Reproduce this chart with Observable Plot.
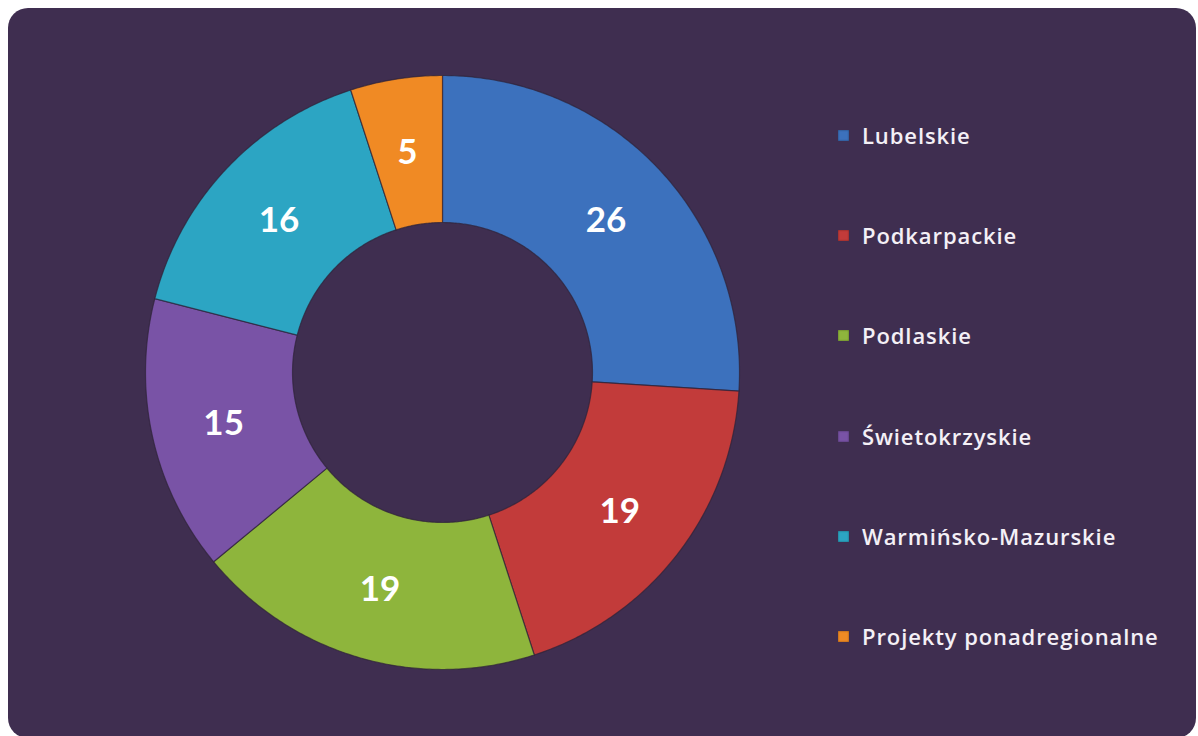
<!DOCTYPE html>
<html>
<head>
<meta charset="utf-8">
<script src="https://cdn.jsdelivr.net/npm/d3@7"></script>
<script src="https://cdn.jsdelivr.net/npm/@observablehq/plot@0.6"></script>
<style>
  html, body { margin: 0; padding: 0; background: #ffffff; width: 1198px; height: 736px; overflow: hidden; }
  #panel { position: absolute; left: 8px; top: 8px; width: 1188px; height: 730px; border-radius: 20px; background: #3f2e50; }
  #chart { position: absolute; left: 0; top: 0; }
  #legend { position: absolute; left: 838px; top: 120px; font-family: "Open Sans", Lato, sans-serif; font-weight: 600; font-size: 22px; letter-spacing: 0.9px; line-height: 30px; color: #f4f0f6; }
  .item { height: 100.2px; display: flex; align-items: flex-start; }
  .sw { width: 11px; height: 11px; margin-top: 10px; margin-right: 13px; box-shadow: inset 0 0 2px rgba(0,0,0,0.5); }
</style>
</head>
<body>
<div id="panel"></div>
<div id="chart"></div>
<div id="legend"></div>
<script>
const categories = ["Lubelskie", "Podkarpackie", "Podlaskie", "Świetokrzyskie", "Warmińsko-Mazurskie", "Projekty ponadregionalne"];
const values = [26, 19, 19, 15, 16, 5];
const colors = ["#3c71bd", "#c23b3a", "#8eb53c", "#7953a6", "#2ca5c3", "#f08a24"];

const innerRatio = 0.505;
const labelRatio = 0.755;

const pie = d3.pie().sort(null).value(d => d.value);
const arcs = pie(categories.map((c, i) => ({category: c, value: values[i]})));

// polygon outline of each ring segment (angle measured clockwise from top)
const pt = (a, r) => [r * Math.sin(a), r * Math.cos(a)];
const polys = [];
for (const a of arcs) {
  const n = Math.max(4, Math.ceil((a.endAngle - a.startAngle) / 0.01));
  const pts = [];
  for (let k = 0; k <= n; k++) pts.push(pt(a.startAngle + (a.endAngle - a.startAngle) * k / n, 1));
  for (let k = n; k >= 0; k--) pts.push(pt(a.startAngle + (a.endAngle - a.startAngle) * k / n, innerRatio));
  pts.push(pts[0]);
  pts.forEach(([x, y], j) => polys.push({category: a.data.category, x, y, j}));
}
const labels = arcs.map(a => {
  const m = (a.startAngle + a.endAngle) / 2;
  const [x, y] = pt(m, labelRatio);
  return {category: a.data.category, value: a.data.value, x, y};
});

const plot = Plot.plot({
  width: 1198,
  height: 736,
  margin: 0,
  style: {background: "transparent", overflow: "visible"},
  x: {domain: [-1, 1], range: [145, 739], axis: null},
  y: {domain: [-1, 1], range: [669, 75], axis: null},
  color: {domain: categories, range: colors},
  marks: [
    Plot.line(polys, {x: "x", y: "y", z: "category", fill: "category", stroke: "#2e2238", strokeWidth: 1.2, strokeOpacity: 0.7, curve: "linear"}),
    Plot.text(labels, {x: "x", y: "y", text: d => String(d.value), fill: "#ffffff", fontSize: 35, fontWeight: 700, fontFamily: "Lato, 'Open Sans', sans-serif", dy: 2})
  ]
});
document.getElementById("chart").appendChild(plot);

const legend = document.getElementById("legend");
categories.forEach((c, i) => {
  const item = document.createElement("div");
  item.className = "item";
  const sw = document.createElement("div");
  sw.className = "sw";
  sw.style.background = colors[i];
  const t = document.createElement("span");
  t.textContent = c;
  item.appendChild(sw);
  item.appendChild(t);
  legend.appendChild(item);
});
</script>
</body>
</html>
